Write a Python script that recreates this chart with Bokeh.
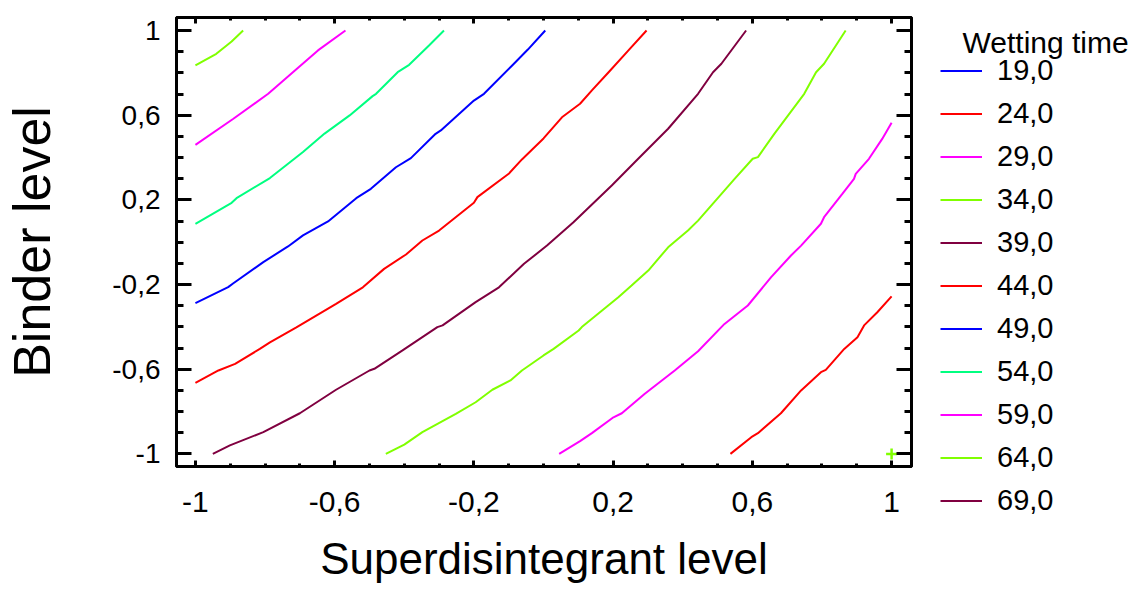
from bokeh.plotting import figure
from bokeh.layouts import row
from bokeh.models import (ColumnDataSource, LinearAxis, FixedTicker, CustomJSTickFormatter,
                          Legend, LegendItem, Label, Range1d)
from bokeh.embed import file_html
from bokeh.resources import INLINE

# ---------------- data ----------------
tick_values = [-1.0, -0.6, -0.2, 0.2, 0.6, 1.0]
tick_labels = ["-1", "-0,6", "-0,2", "0,2", "0,6", "1"]
minor_tick_values = [-1.0, -0.9, -0.8, -0.7, -0.6, -0.5, -0.4, -0.3, -0.2, -0.1, 0.0,
                     0.1, 0.2, 0.3, 0.4, 0.5, 0.6, 0.7, 0.8, 0.9, 1.0]

legend_title = "Wetting time"
levels = ["19,0", "24,0", "29,0", "34,0", "39,0", "44,0", "49,0", "54,0", "59,0", "64,0", "69,0"]
level_colors = ["#0000FF", "#FF0000", "#FF00FF", "#80FF00", "#800040", "#FF0000",
                "#0000FF", "#00FF80", "#FF00FF", "#80FF00", "#800040"]

# contour lines (x = superdisintegrant, y = binder)
x24 = [0.537, 0.597, 0.616, 0.682, 0.740, 0.797, 0.811, 0.864, 0.902, 0.921, 0.959, 1.0]
y24 = [-1.0, -0.921, -0.902, -0.808, -0.700, -0.614, -0.603, -0.504, -0.449, -0.393, -0.331, -0.256]

x29 = [0.045, 0.105, 0.139, 0.201, 0.225, 0.291, 0.377, 0.444, 0.520, 0.587, 0.654, 0.711,
       0.740, 0.797, 0.806, 0.859, 0.892, 0.897, 0.935, 0.973, 1.0]
y29 = [-1.0, -0.940, -0.902, -0.827, -0.808, -0.716, -0.606, -0.515, -0.386, -0.299, -0.165, -0.063,
       -0.016, 0.087, 0.118, 0.229, 0.299, 0.323, 0.394, 0.488, 0.564]

x34 = [-0.453, -0.400, -0.348, -0.252, -0.195, -0.147, -0.095, -0.062, 0.0, 0.029, 0.101, 0.110,
       0.215, 0.253, 0.301, 0.358, 0.415, 0.444, 0.549, 0.601, 0.616, 0.663, 0.749, 0.783, 0.806, 0.868]
y34 = [-1.0, -0.956, -0.897, -0.811, -0.756, -0.697, -0.653, -0.606, -0.535, -0.504, -0.417, -0.401,
       -0.260, -0.205, -0.134, -0.024, 0.055, 0.102, 0.299, 0.394, 0.402, 0.512, 0.701, 0.803, 0.843, 1.0]

x39 = [-0.950, -0.901, -0.805, -0.700, -0.596, -0.500, -0.486, -0.405, -0.305, -0.290, -0.195, -0.128,
       -0.056, 0.010, 0.086, 0.196, 0.272, 0.358, 0.444, 0.487, 0.511, 0.582]
y39 = [-1.0, -0.960, -0.897, -0.808, -0.697, -0.606, -0.598, -0.511, -0.401, -0.393, -0.283, -0.213,
       -0.102, -0.016, 0.094, 0.268, 0.394, 0.536, 0.701, 0.803, 0.843, 1.0]

x44 = [-1.0, -0.934, -0.886, -0.815, -0.786, -0.710, -0.596, -0.519, -0.458, -0.395, -0.348, -0.300,
       -0.200, -0.190, -0.100, -0.062, 0.0, 0.053, 0.105, 0.139, 0.187, 0.244, 0.296]
y44 = [-0.664, -0.606, -0.575, -0.504, -0.473, -0.402, -0.291, -0.213, -0.126, -0.058, 0.008, 0.055,
       0.186, 0.213, 0.323, 0.391, 0.490, 0.590, 0.654, 0.717, 0.803, 0.906, 1.0]

x49 = [-1.0, -0.906, -0.891, -0.805, -0.734, -0.691, -0.619, -0.538, -0.496, -0.424, -0.381, -0.310,
       -0.295, -0.200, -0.171, -0.090, -0.045, 0.005]
y49 = [-0.288, -0.212, -0.194, -0.094, -0.020, 0.032, 0.098, 0.208, 0.252, 0.354, 0.397, 0.512,
       0.528, 0.669, 0.701, 0.835, 0.910, 1.0]

x54 = [-1.0, -0.896, -0.882, -0.786, -0.691, -0.629, -0.557, -0.491, -0.481, -0.419, -0.386, -0.329, -0.286]
y54 = [0.087, 0.186, 0.208, 0.303, 0.426, 0.513, 0.599, 0.690, 0.701, 0.803, 0.838, 0.929, 1.0]

x59 = [-1.0, -0.891, -0.791, -0.720, -0.648, -0.569]
y59 = [0.460, 0.583, 0.701, 0.803, 0.906, 1.0]

x64 = [-1.0, -0.940, -0.896, -0.863]
y64 = [0.835, 0.890, 0.948, 1.0]

contour_data = {
    "24,0": (x24, y24), "29,0": (x29, y29), "34,0": (x34, y34), "39,0": (x39, y39),
    "44,0": (x44, y44), "49,0": (x49, y49), "54,0": (x54, y54), "59,0": (x59, y59),
    "64,0": (x64, y64),
}

marker_x = [1.0]
marker_y = [-1.0]

FONT = "Liberation Sans"

# ---------------- main figure ----------------
p = figure(width=913, height=591,
           x_range=Range1d(-1.0544, 1.0572), y_range=Range1d(-1.0595, 1.0614),
           output_backend="svg", toolbar_location=None,
           min_border_left=173, min_border_right=2, min_border_top=17, min_border_bottom=125,
           x_axis_label="Superdisintegrant level", y_axis_label="Binder level")
p.background_fill_color = "white"
p.border_fill_color = "white"
p.outline_line_color = "black"
p.outline_line_width = 3
p.xgrid.visible = False
p.ygrid.visible = False
p.frame_align = False

formatter = CustomJSTickFormatter(args=dict(vals=tick_values, labs=tick_labels), code="""
    for (let i = 0; i < vals.length; i++) {
        if (Math.abs(vals[i] - tick) < 1e-6) { return labs[i]; }
    }
    return "";
""")


def style_axis(ax, tin_major, tin_minor, font_size, standoff, show_labels=True):
    ax.ticker = FixedTicker(ticks=tick_values, minor_ticks=minor_tick_values)
    ax.formatter = formatter
    ax.axis_line_color = "black"
    ax.axis_line_width = 3
    ax.major_tick_line_width = 3
    ax.minor_tick_line_width = 3
    ax.major_tick_in = tin_major
    ax.major_tick_out = 0
    ax.minor_tick_in = tin_minor
    ax.minor_tick_out = 0
    if show_labels:
        ax.major_label_text_font = FONT
        ax.major_label_text_font_size = font_size
        ax.major_label_text_color = "black"
        ax.major_label_standoff = standoff
    else:
        ax.major_label_text_font_size = "1px"
        ax.major_label_text_color = None
        ax.major_label_standoff = 0


xax = p.xaxis[0]
yax = p.yaxis[0]
style_axis(xax, 6, 3, "30px", 25)
style_axis(yax, 15, 7, "28px", 16)

xax.axis_label_text_font = FONT
xax.axis_label_text_font_size = "44px"
xax.axis_label_text_font_style = "normal"
xax.axis_label_text_color = "black"
xax.axis_label_standoff = 19

yax.axis_label_text_font = FONT
yax.axis_label_text_font_size = "52px"
yax.axis_label_text_font_style = "normal"
yax.axis_label_text_color = "black"
yax.axis_label_standoff = 48

top_ax = LinearAxis()
style_axis(top_ax, 6, 3, None, 0, show_labels=False)
p.add_layout(top_ax, "above")
right_ax = LinearAxis()
style_axis(right_ax, 15, 7, None, 0, show_labels=False)
p.add_layout(right_ax, "right")

for lev, col in zip(levels, level_colors):
    if lev in contour_data:
        xs, ys = contour_data[lev]
        p.line(xs, ys, line_color=col, line_width=2)

p.scatter(marker_x, marker_y, marker="cross", size=11, line_color="#80FF00", line_width=2.5)

# ---------------- legend panel ----------------
lf = figure(width=226, height=591, x_range=Range1d(0, 1), y_range=Range1d(0, 1),
            output_backend="svg", toolbar_location=None,
            x_axis_location=None, y_axis_location=None,
            min_border_left=0, min_border_right=0, min_border_top=0, min_border_bottom=0)
lf.outline_line_color = None
lf.grid.visible = False
lf.background_fill_color = "white"
lf.border_fill_color = "white"
lf.frame_align = False

nan = float("nan")
items = []
for lev, col in zip(levels, level_colors):
    # legend-only key line (not drawn inside this panel)
    src = ColumnDataSource(data=dict(x=[nan], y=[nan]))
    r = lf.line("x", "y", source=src, line_color=col, line_width=2)
    items.append(LegendItem(label=lev, renderers=[r]))

legend = Legend(items=items, location=(27, 69), margin=0, padding=0, spacing=0,
                glyph_width=42, glyph_height=43, label_height=43, label_standoff=15,
                label_text_font=FONT, label_text_font_size="29px", label_text_color="black",
                border_line_color=None, background_fill_color=None, background_fill_alpha=0)
lf.add_layout(legend, "center")

title_lbl = Label(x=49, y=549, x_units="screen", y_units="screen", text=legend_title,
                  text_font=FONT, text_font_size="30px", text_color="black",
                  text_baseline="alphabetic", text_align="left")
lf.add_layout(title_lbl)

layout = row(p, lf, spacing=0)
open("out.html", "w").write(file_html(layout, INLINE))
